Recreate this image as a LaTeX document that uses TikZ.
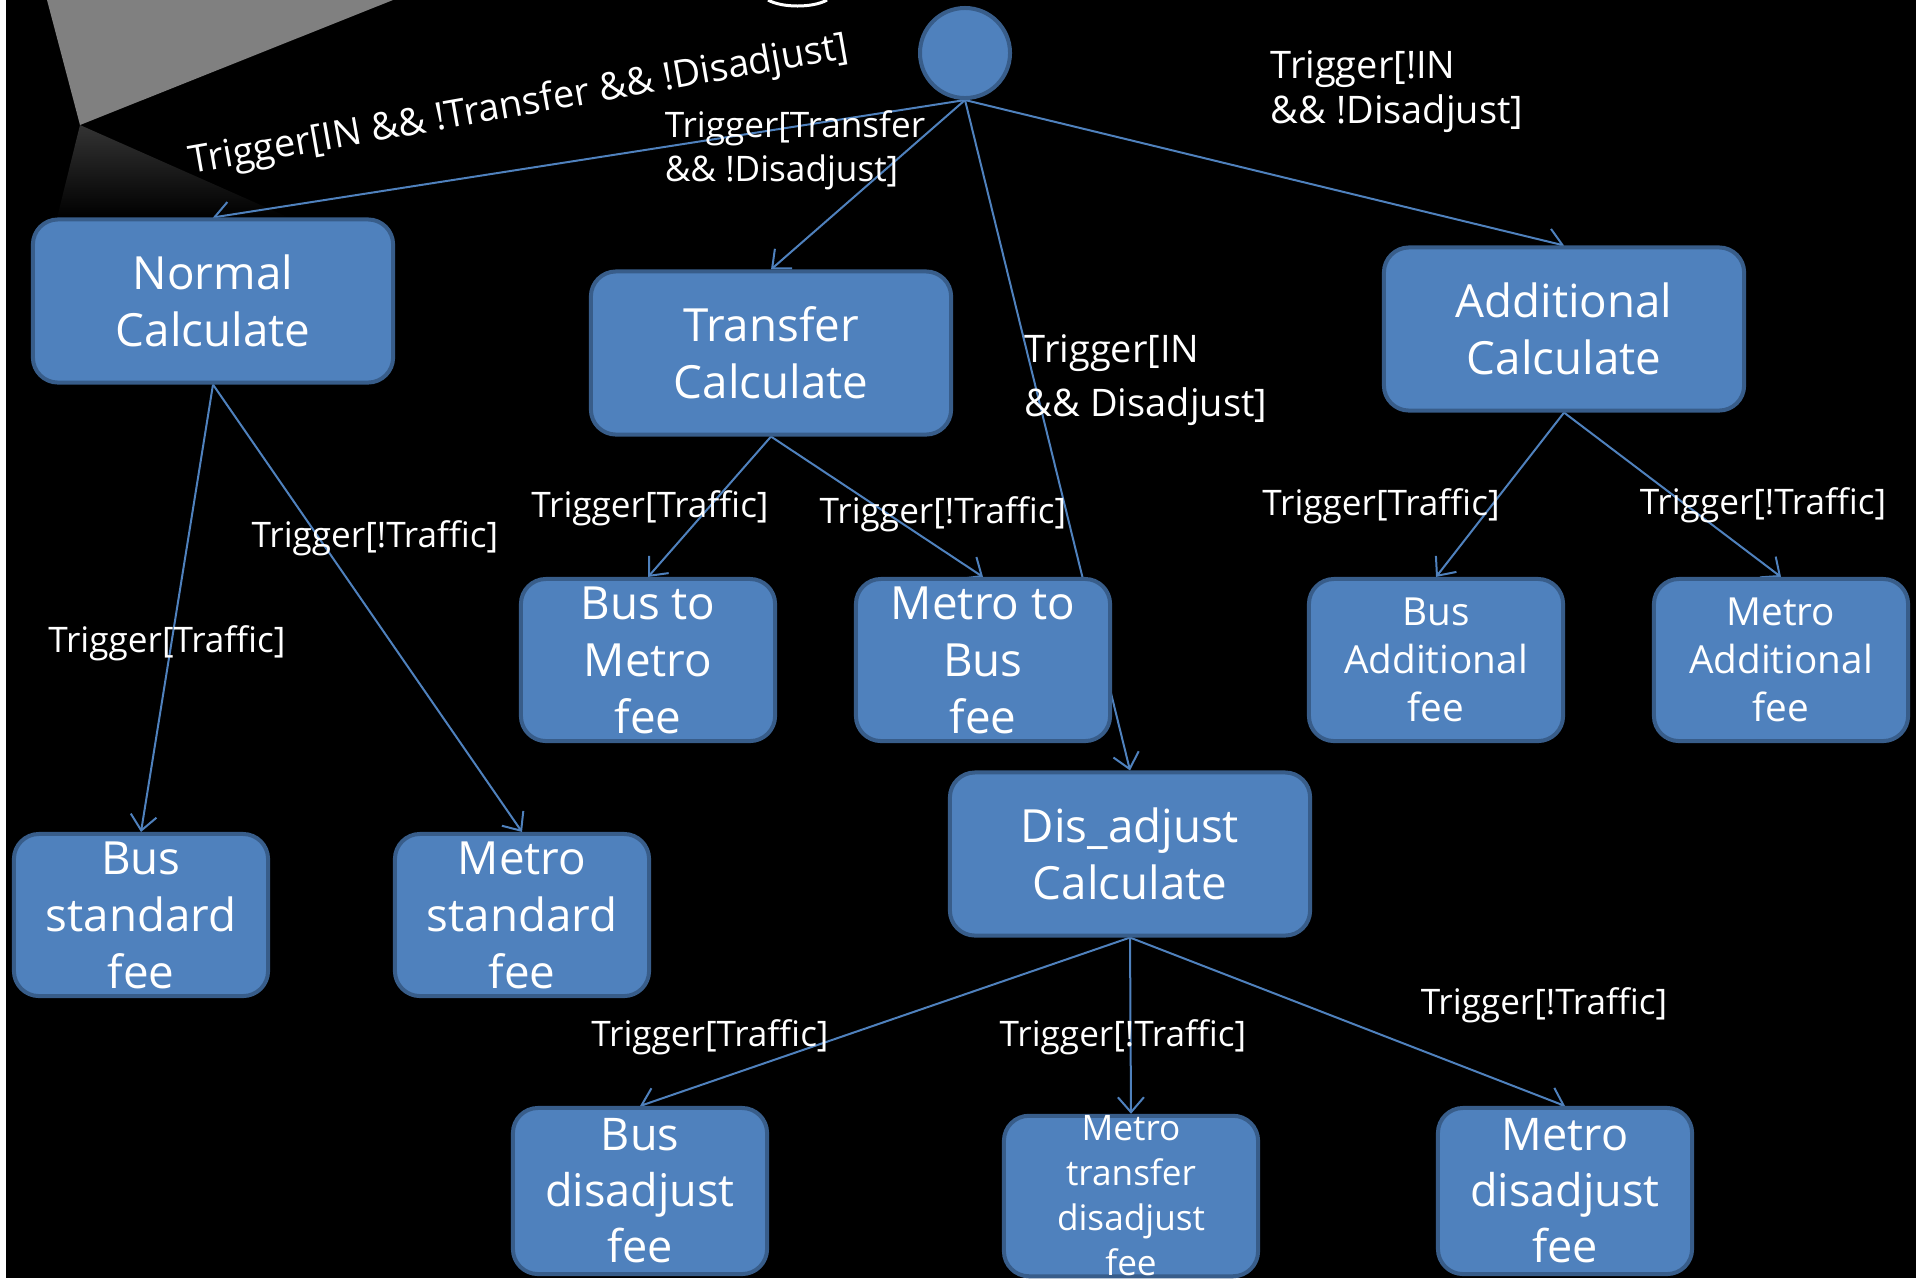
\documentclass[tikz,border=0pt]{standalone}
\usepackage{fontspec}
\setmainfont{Open Sans}
\usetikzlibrary{arrows.meta}
\pgfdeclarelayer{back}
\pgfdeclarelayer{wires}
\pgfsetlayers{back,wires,main}

\begin{document}
\begin{tikzpicture}[x=0.01cm, y=-0.01cm,
    state/.style={rectangle, rounded corners=0.25cm, fill=stateblue, draw=stateedge,
        line width=0.04cm, text=white, align=center, inner sep=0pt,
        minimum width=3.6cm, minimum height=1.63cm,
        font=\fontsize{13}{16.2}\selectfont},
    fee/.style={state, minimum width=2.54cm, minimum height=1.62cm},
    trans/.style={draw=stateblue, line width=0.02cm,
        -{Straight Barb[length=0.15cm,width=0.26cm]}},
    guard/.style={text=white, align=left, inner sep=0pt,
        font=\fontsize{10}{12.5}\selectfont},
    bigguard/.style={guard, font=\fontsize{10.8}{12.8}\selectfont}]

    % Define slide colors
    \definecolor{stateblue}{RGB}{79, 129, 189}
    \definecolor{stateedge}{RGB}{56, 93, 138}
    \definecolor{slidegray}{RGB}{128, 128, 128}

    \useasboundingbox (0,0) rectangle (1916,1278);
    \clip (0,0) rectangle (1916,1278);

    % Initial state
    \node[circle, fill=stateblue, draw=stateedge, line width=0.04cm,
        minimum size=0.9cm, inner sep=0pt] (start) at (965,53) {};

    % Calculation states
    \node[state] (normal) at (213,301) {Normal\\Calculate};
    \node[state] (transfer) at (771,353) {Transfer\\Calculate};
    \node[state] (additional) at (1564,329) {Additional\\Calculate};
    \node[state] (disadjust) at (1130,854) {Dis\_adjust\\Calculate};

    % Fee states
    \node[fee] (busstd) at (141,915) {Bus\\standard\\fee};
    \node[fee] (metrostd) at (522,915) {Metro\\standard\\fee};
    \node[fee] (bus2metro) at (648,660) {Bus to\\Metro\\fee};
    \node[fee] (metro2bus) at (983,660) {Metro to\\Bus\\fee};
    \node[fee, font=\fontsize{11}{13.7}\selectfont] (busadd) at (1436,660) {Bus\\Additional\\fee};
    \node[fee, font=\fontsize{11}{13.7}\selectfont] (metroadd) at (1781,660) {Metro\\Additional\\fee};
    \node[fee, minimum height=1.66cm, font=\fontsize{12.8}{15.9}\selectfont] (busdis) at (640,1191) {Bus\\disadjust\\fee};
    \node[fee, minimum height=1.6cm, font=\fontsize{10}{12.8}\selectfont] (metrotrans) at (1131,1196) {Metro\\transfer\\disadjust\\fee};
    \node[fee, minimum height=1.66cm, font=\fontsize{12.8}{15.9}\selectfont] (metrodis) at (1565,1191) {Metro\\disadjust\\fee};

    % Guards
    \node[bigguard, rotate=10] (gnormal) at (519,106) {Trigger[IN \&\& !Transfer \&\& !Disadjust]};
    \node[guard] (gtransfer) at (795,150) {Trigger[Transfer\\\&\& !Disadjust]};
    \node[bigguard] (gadditional) at (1397,92) {Trigger[!IN\\\&\& !Disadjust]};
    \node[bigguard, font=\fontsize{10.8}{15.3}\selectfont] (gdisadjust) at (1146,380) {Trigger[IN\\\&\& Disadjust]};
    \node[guard] (gbusstd) at (167,643) {Trigger[Traffic]};
    \node[guard] (gmetrostd) at (375,538) {Trigger[!Traffic]};
    \node[guard] (gbus2metro) at (650,508) {Trigger[Traffic]};
    \node[guard] (gmetro2bus) at (943,514) {Trigger[!Traffic]};
    \node[guard] (gbusadd) at (1381,506) {Trigger[Traffic]};
    \node[guard] (gmetroadd) at (1763,505) {Trigger[!Traffic]};
    \node[guard] (gbusdis) at (710,1037) {Trigger[Traffic]};
    \node[guard] (gmetrotrans) at (1123,1037) {Trigger[!Traffic]};
    \node[guard] (gmetrodis) at (1544,1005) {Trigger[!Traffic]};

    % Transitions, behind the states
    \begin{pgfonlayer}{wires}
        \foreach \target in {normal, transfer, disadjust, additional}
            \draw[trans] (start.south) -- (\target.north);
        \foreach \target in {busstd, metrostd}
            \draw[trans] (normal.south) -- (\target.north);
        \foreach \target in {bus2metro, metro2bus}
            \draw[trans] (transfer.south) -- (\target.north);
        \foreach \target in {busadd, metroadd}
            \draw[trans] (additional.south) -- (\target.north);
        \foreach \target in {busdis, metrotrans, metrodis}
            \draw[trans] (disadjust.south) -- (\target.north);
    \end{pgfonlayer}

    % Slide background and the cut-off picture at the top
    \begin{pgfonlayer}{back}
        \fill[black] (0,0) rectangle (1916,1278);
        \fill[white] (0,0) rectangle (6,1278);
        \fill[slidegray] (47,0) -- (80,125) -- (393,0) -- cycle;
        \shade[top color=black!80!white, bottom color=black]
            (80,125) -- (57,218) -- (290,218) -- cycle;
        \draw[white, line width=0.03cm] (768,0) .. controls (782,8) and (813,8) .. (827,0);
    \end{pgfonlayer}

\end{tikzpicture}
\end{document}
